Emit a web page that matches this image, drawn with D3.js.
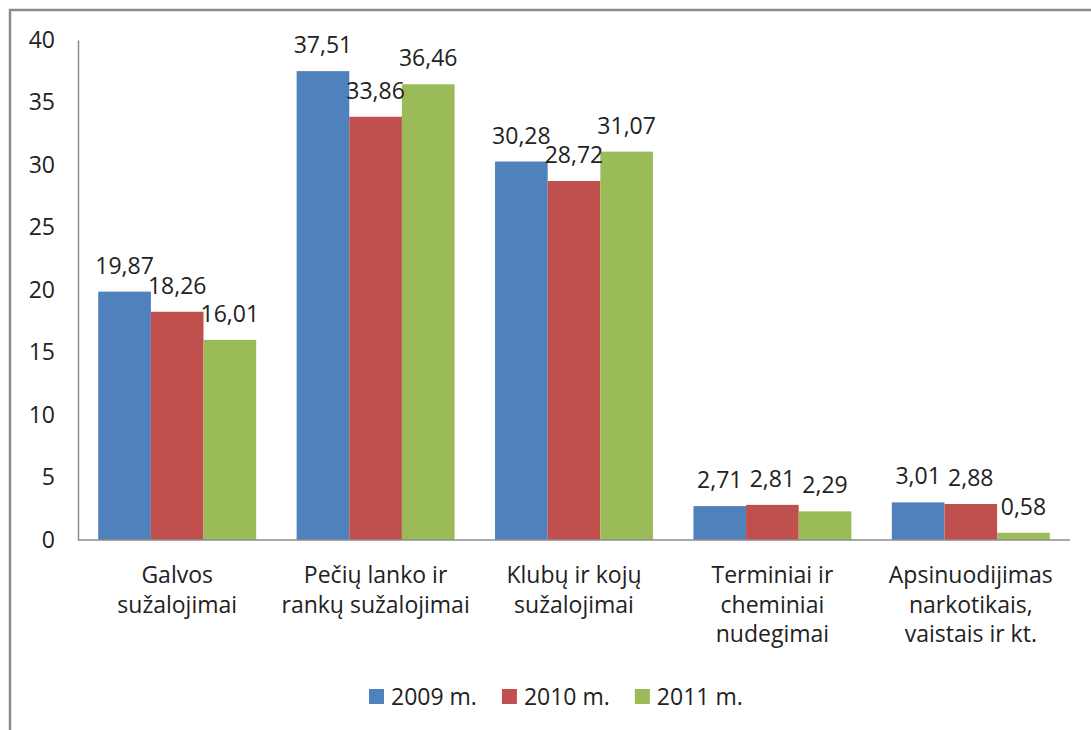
<!DOCTYPE html>
<html>
<head>
<meta charset="utf-8">
<script src="https://cdn.jsdelivr.net/npm/d3@7"></script>
<style>
  body { margin: 0; background: #fff; }
  svg text { font-family: "Open Sans", sans-serif; fill: #222; }
</style>
</head>
<body>
<div id="chart"></div>
<script>
// data
var categories = [
  ["Galvos", "sužalojimai"],
  ["Pečių lanko ir", "rankų sužalojimai"],
  ["Klubų ir kojų", "sužalojimai"],
  ["Terminiai ir", "cheminiai", "nudegimai"],
  ["Apsinuodijimas", "narkotikais,", "vaistais ir kt."]
];
var seriesNames = ["2009 m.", "2010 m.", "2011 m."];
var values2009 = [19.87, 37.51, 30.28, 2.71, 3.01];
var values2010 = [18.26, 33.86, 28.72, 2.81, 2.88];
var values2011 = [16.01, 36.46, 31.07, 2.29, 0.58];
var yTicks = [0, 5, 10, 15, 20, 25, 30, 35, 40];

(function() {
  var width = 1091, height = 730;
  var colors = ["#4f81bd", "#c0504d", "#9bbb59"];
  var series = [values2009, values2010, values2011];
  var fontSize = "23px";

  var svg = d3.select("#chart").append("svg")
      .attr("width", width)
      .attr("height", height);

  // chart frame (right/bottom edges fall outside the picture)
  svg.append("rect")
      .attr("x", 10).attr("y", 10)
      .attr("width", 1100).attr("height", 740)
      .style("fill", "none")
      .style("stroke", "#8c8c8c")
      .style("stroke-width", 2.5);

  var x = d3.scaleBand()
      .domain(d3.range(categories.length))
      .range([78, 1070])
      .paddingInner(0.204)
      .paddingOuter(0.102);

  var xs = d3.scaleBand()
      .domain(d3.range(seriesNames.length))
      .range([0, x.bandwidth()]);

  var y = d3.scaleLinear()
      .domain([0, 40])
      .range([540, 40]);

  // y axis
  var yAxis = svg.append("g")
      .attr("transform", "translate(78,0)")
      .call(d3.axisLeft(y).tickValues(yTicks).tickSize(0).tickPadding(23));
  yAxis.select(".domain").style("stroke", "#8c8c8c").style("stroke-width", 1.5);
  yAxis.selectAll("text")
      .style("font-size", fontSize)
      .style("font-family", "'Open Sans', sans-serif")
      .style("fill", "#222");

  // bars
  var groups = svg.selectAll("g.cat")
      .data(categories)
    .enter().append("g")
      .attr("class", "cat")
      .attr("transform", function(d, i) { return "translate(" + x(i) + ",0)"; });

  groups.selectAll("rect")
      .data(function(d, i) { return series.map(function(s, j) { return {s: j, v: s[i]}; }); })
    .enter().append("rect")
      .attr("x", function(d) { return xs(d.s); })
      .attr("y", function(d) { return y(d.v); })
      .attr("width", xs.bandwidth())
      .attr("height", function(d) { return y(0) - y(d.v); })
      .style("fill", function(d) { return colors[d.s]; });

  groups.selectAll("text.val")
      .data(function(d, i) { return series.map(function(s, j) { return {s: j, v: s[i]}; }); })
    .enter().append("text")
      .attr("class", "val")
      .attr("x", function(d) { return xs(d.s) + xs.bandwidth() / 2; })
      .attr("y", function(d) { return y(d.v) - 18; })
      .attr("text-anchor", "middle")
      .style("font-size", fontSize)
      .text(function(d) { return d.v.toFixed(2).replace(".", ","); });

  // x axis line
  svg.append("line")
      .attr("x1", 78).attr("x2", 1070)
      .attr("y1", y(0)).attr("y2", y(0))
      .style("stroke", "#8c8c8c")
      .style("stroke-width", 1.5);

  // category labels
  groups.append("text")
      .attr("text-anchor", "middle")
      .style("font-size", fontSize)
      .selectAll("tspan")
      .data(function(d) { return d; })
    .enter().append("tspan")
      .attr("x", x.bandwidth() / 2)
      .attr("y", function(d, i) { return 583 + i * 29.5; })
      .text(function(d) { return d; });

  // legend
  var legend = svg.append("g");
  var lx = 369;
  seriesNames.forEach(function(name, i) {
    legend.append("rect")
        .attr("x", lx).attr("y", 689)
        .attr("width", 15).attr("height", 15)
        .style("fill", colors[i]);
    var t = legend.append("text")
        .attr("x", lx + 22).attr("y", 705)
        .style("font-size", fontSize)
        .text(name);
    lx += 22 + t.node().getComputedTextLength() + 25;
  });
})();
</script>
</body>
</html>
